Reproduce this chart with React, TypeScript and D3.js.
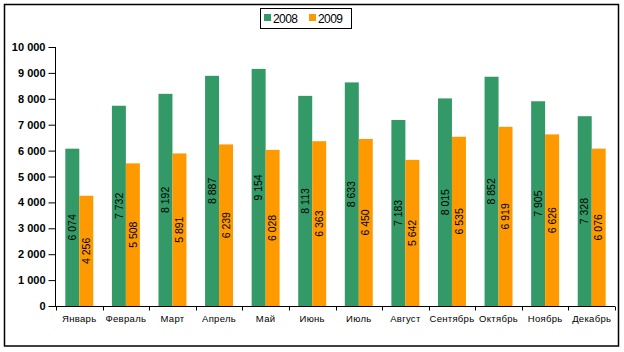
import { useEffect, useRef } from 'react'
import * as d3 from 'd3'

const months = ['Январь', 'Февраль', 'Март', 'Апрель', 'Май', 'Июнь', 'Июль', 'Август', 'Сентябрь', 'Октябрь', 'Ноябрь', 'Декабрь']
const series = ['2008', '2009']
const values2008 = [6074, 7732, 8192, 8887, 9154, 8113, 8633, 7183, 8015, 8852, 7905, 7328]
const values2009 = [4256, 5508, 5891, 6239, 6028, 6363, 6450, 5642, 6535, 6919, 6626, 6076]
const yTicks = [0, 1000, 2000, 3000, 4000, 5000, 6000, 7000, 8000, 9000, 10000]
const colors = ['#339966', '#FF9900']

export default function App() {
  const svgRef = useRef<SVGSVGElement | null>(null)

  useEffect(() => {
    const W = 624
    const H = 352
    const plot = { left: 56, right: 615, top: 47, bottom: 306 }
    const font = 'Arial, "Liberation Sans", sans-serif'
    const fmt = d3.formatLocale({ decimal: ',', thousands: '\u00a0', grouping: [3], currency: ['', ''] }).format(',d')

    const svg = d3.select(svgRef.current)
    svg.selectAll('*').remove()
    svg.attr('width', W).attr('height', H)

    svg.append('rect')
      .attr('x', 4.5).attr('y', 4.5).attr('width', 614).attr('height', 341.5)
      .attr('fill', '#fff').attr('stroke', '#000').attr('stroke-width', 1.5)

    const x0 = d3.scaleBand().domain(months).range([plot.left, plot.right]).padding(0)
    const step = x0.bandwidth()
    const x1 = d3.scaleBand().domain(series).range([step * 0.2, step * 0.8]).padding(0)
    const y = d3.scaleLinear().domain([0, 10000]).range([plot.bottom, plot.top])

    const rows = months.map((m, i) => ({ month: m, vals: [values2008[i], values2009[i]] }))

    const groups = svg.append('g').selectAll('g').data(rows).join('g')
      .attr('transform', (d) => `translate(${x0(d.month)},0)`)

    groups.selectAll('rect')
      .data((d) => d.vals.map((v, k) => ({ key: series[k], v, k })))
      .join('rect')
      .attr('x', (d) => x1(d.key)!)
      .attr('width', x1.bandwidth())
      .attr('y', (d) => y(d.v))
      .attr('height', (d) => y(0) - y(d.v))
      .attr('fill', (d) => colors[d.k])

    groups.selectAll('text.lbl')
      .data((d) => d.vals.map((v, k) => ({ key: series[k], v, k })))
      .join('text')
      .attr('class', 'lbl')
      .attr('transform', (d) => {
        const cx = x1(d.key)! + x1.bandwidth() / 2
        const cy = (y(d.v) + y(0)) / 2
        return `translate(${cx},${cy}) rotate(-90)`
      })
      .attr('text-anchor', 'middle')
      .attr('dy', '0.35em')
      .attr('font-family', font)
      .attr('font-size', 10.5)
      .attr('fill', '#000')
      .text((d) => fmt(d.v))

    // y axis
    const yAxis = svg.append('g')
      .attr('transform', `translate(${plot.left - 0.5},0)`)
      .call(d3.axisLeft(y).tickValues(yTicks).tickSize(7).tickPadding(3).tickFormat((d) => fmt(d as number)))
    yAxis.select('.domain').attr('stroke', '#000').attr('d', `M0,${plot.top}V${plot.bottom}`)
    yAxis.selectAll('.tick line').attr('stroke', '#000')
    yAxis.selectAll('text')
      .attr('font-family', font).attr('font-size', 11).attr('font-weight', 'bold').attr('fill', '#000')

    // x axis
    const xAxis = svg.append('g').attr('transform', `translate(0,${plot.bottom + 0.5})`)
    xAxis.append('line')
      .attr('x1', plot.left - 7).attr('x2', plot.right)
      .attr('stroke', '#000')
    const bounds = [...months.map((m) => x0(m)!), plot.right]
    xAxis.selectAll('line.tk').data(bounds).join('line')
      .attr('class', 'tk')
      .attr('x1', (d) => Math.round(d) + 0.5).attr('x2', (d) => Math.round(d) + 0.5)
      .attr('y1', 0).attr('y2', 4)
      .attr('stroke', '#000')
    xAxis.selectAll('text').data(months).join('text')
      .attr('x', (d) => x0(d)! + step / 2)
      .attr('y', 15)
      .attr('text-anchor', 'middle')
      .attr('font-family', font)
      .attr('font-size', 9.5)
      .attr('letter-spacing', 0.3)
      .attr('fill', '#000')
      .text((d) => d)

    // legend
    const lg = svg.append('g')
    lg.append('rect')
      .attr('x', 260.5).attr('y', 8.5).attr('width', 91).attr('height', 20)
      .attr('fill', '#fff').attr('stroke', '#000').attr('stroke-width', 1)
    series.forEach((s, i) => {
      const ox = 264 + i * 45
      lg.append('rect').attr('x', ox).attr('y', 14).attr('width', 7).attr('height', 7).attr('fill', colors[i])
      lg.append('text')
        .attr('x', ox + 9).attr('y', 22.5)
        .attr('font-family', font).attr('font-size', 12).attr('letter-spacing', -0.6)
        .attr('fill', '#000')
        .text(s)
    })
  }, [])

  return (
    <div style={{ position: 'absolute', left: 0, top: 0 }}>
      <svg ref={svgRef} style={{ display: 'block' }} />
    </div>
  )
}
